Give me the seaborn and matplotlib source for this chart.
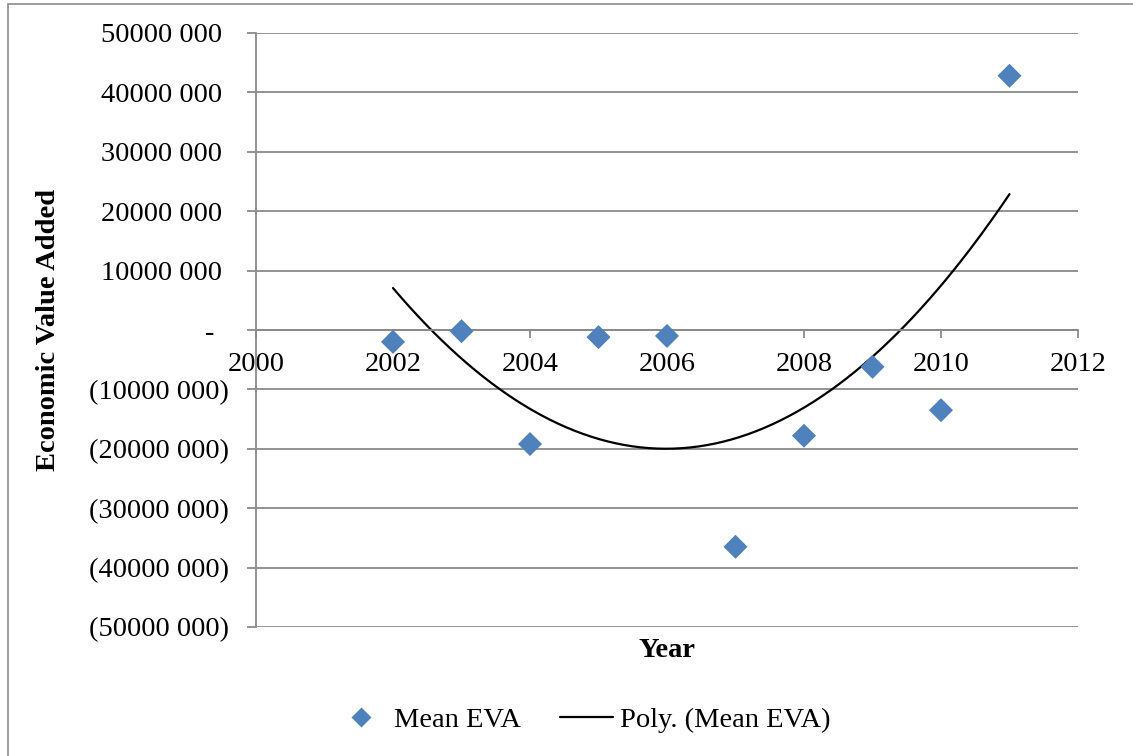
import numpy as np
import pandas as pd
import matplotlib
matplotlib.use("Agg")
import matplotlib.pyplot as plt
import seaborn as sns
from matplotlib.patches import Rectangle
from matplotlib.lines import Line2D
from matplotlib.ticker import FixedLocator, FuncFormatter

# Mean Economic Value Added per year
years = [2002, 2003, 2004, 2005, 2006, 2007, 2008, 2009, 2010, 2011]
mean_eva = [-2.0e6, -0.2e6, -19.2e6, -1.2e6, -1.0e6, -36.5e6, -17.8e6, -6.2e6, -13.5e6, 42.8e6]

x_ticks = [2000, 2002, 2004, 2006, 2008, 2010, 2012]
y_ticks = [50e6, 40e6, 30e6, 20e6, 10e6, 0, -10e6, -20e6, -30e6, -40e6, -50e6]

df = pd.DataFrame({"Year": years, "Mean EVA": mean_eva})

# Second-order polynomial trendline
coef = np.polyfit(df["Year"], df["Mean EVA"], 2)
xs = np.linspace(min(years), max(years), 300)
trend = pd.DataFrame({"Year": xs, "Trend": np.polyval(coef, xs)})

sns.set_theme(style="white")
plt.rcParams["font.family"] = ["Liberation Serif", "DejaVu Serif"]
plt.rcParams["text.color"] = "black"
plt.rcParams["axes.labelcolor"] = "black"
plt.rcParams["xtick.labelcolor"] = "black"
plt.rcParams["ytick.labelcolor"] = "black"

FS = 20.5
GRID = "#8a8a8a"
BLUE = "#4f81bd"

fig = plt.figure(figsize=(11.33, 7.56), dpi=100)
ax = fig.add_axes([256 / 1133, 1 - 627 / 756, 822 / 1133, 594 / 756])

# outer chart frame
fig.patches.append(Rectangle((8 / 1133, -0.1), 1.2, 0.1 + (1 - 4 / 756),
                             transform=fig.transFigure, fill=False,
                             edgecolor="#8c8c8c", linewidth=1.2))

sns.lineplot(data=trend, x="Year", y="Trend", color="black", linewidth=1.6, ax=ax,
             legend=False)
sns.scatterplot(data=df, x="Year", y="Mean EVA", marker="D", s=150, color=BLUE,
                edgecolor="none", ax=ax, legend=False, zorder=5)

ax.set_xlim(2000, 2012)
ax.set_ylim(-50e6, 50e6)
ax.yaxis.set_major_locator(FixedLocator(y_ticks))
ax.xaxis.set_major_locator(FixedLocator(x_ticks))


def fmt_y(v, pos):
    if abs(v) < 1:
        return "-  "
    s = f"{int(abs(v) // 1000)} 000"
    return f"({s})" if v < 0 else s + " "


ax.yaxis.set_major_formatter(FuncFormatter(fmt_y))
ax.xaxis.set_major_formatter(FuncFormatter(lambda v, p: f"{int(v)}"))

ax.grid(axis="y", color=GRID, linewidth=1.3)
ax.grid(axis="x", visible=False)
ax.set_axisbelow(True)

for side in ["top", "right"]:
    ax.spines[side].set_visible(False)
ax.spines["bottom"].set_position(("data", 0))
for side in ["left", "bottom"]:
    ax.spines[side].set_color(GRID)
    ax.spines[side].set_linewidth(1.3)

ax.tick_params(axis="y", direction="out", length=6.5, width=1.3, color=GRID,
               labelsize=FS, pad=13, left=True)
ax.tick_params(axis="x", direction="out", length=6, width=1.3, color=GRID,
               labelsize=FS, pad=10, bottom=True)

ax.set_xlabel("Year", fontsize=FS, fontweight="bold")
ax.set_ylabel("Economic Value Added", fontsize=FS, fontweight="bold")
ax.xaxis.set_label_coords(0.5, -0.018)
ax.yaxis.set_label_coords(-0.237, 0.5)

handles = [
    Line2D([], [], marker="D", linestyle="none", markersize=10, color=BLUE,
           markeredgecolor="none"),
    Line2D([], [], color="black", linewidth=1.6),
]
fig.legend(handles, ["Mean EVA", "Poly. (Mean EVA)"], loc="center",
           bbox_to_anchor=(0.514, 1 - 720 / 756), ncol=2, frameon=False,
           fontsize=FS, handlelength=1.85, columnspacing=1.35, handletextpad=0.25)

fig.savefig("out.png", dpi=100)
